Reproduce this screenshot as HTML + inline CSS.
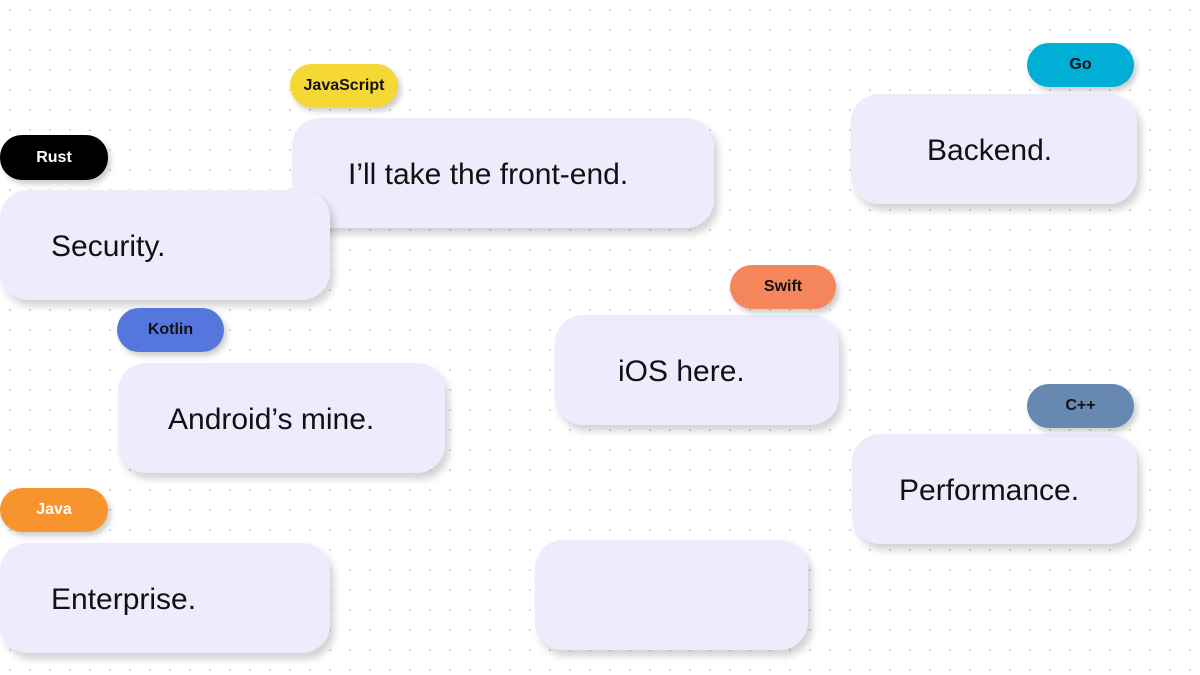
<!DOCTYPE html>
<html><head><meta charset="utf-8"><style>
html,body{margin:0;padding:0}
body{width:1200px;height:675px;overflow:hidden;position:relative;background-color:#fff;
background-image:radial-gradient(circle,#dcdce0 1px,transparent 1.4px);background-size:20px 20px;background-position:0 0;
font-family:"Liberation Sans",sans-serif}
.c{position:absolute;background:#eeebfc;border-radius:28px;box-shadow:4px 6px 8px rgba(0,0,0,0.18);font-size:30px;color:#111;display:flex;align-items:center;box-sizing:border-box;white-space:nowrap;padding-top:3px}
.p{position:absolute;border-radius:22px;box-shadow:3px 4px 6px rgba(0,0,0,0.2);font-size:16px;font-weight:bold;display:flex;align-items:center;justify-content:center;color:#111}
</style></head><body>
<div class="c" style="left:292px;top:118px;width:422px;height:110px;padding-left:56px">I’ll take the front-end.</div>
<div class="p" style="left:290px;top:64px;width:108px;height:43px;background:#f5d735">JavaScript</div>
<div class="c" style="left:0;top:190px;width:330px;height:110px;padding-left:51px">Security.</div>
<div class="p" style="left:0;top:135px;width:108px;height:45px;background:#000;color:#fff">Rust</div>
<div class="c" style="left:851px;top:94px;width:286px;height:110px;padding-left:76px">Backend.</div>
<div class="p" style="left:1027px;top:43px;width:107px;height:44px;background:#00aed6">Go</div>
<div class="c" style="left:555px;top:315px;width:284px;height:110px;padding-left:63px">iOS here.</div>
<div class="p" style="left:730px;top:265px;width:106px;height:44px;background:#f5855a">Swift</div>
<div class="c" style="left:118px;top:363px;width:327px;height:110px;padding-left:50px">Android’s mine.</div>
<div class="p" style="left:117px;top:308px;width:107px;height:44px;background:#5577dd">Kotlin</div>
<div class="c" style="left:852px;top:434px;width:285px;height:110px;padding-left:47px">Performance.</div>
<div class="p" style="left:1027px;top:384px;width:107px;height:44px;background:#6788b0">C++</div>
<div class="c" style="left:0;top:543px;width:330px;height:110px;padding-left:51px">Enterprise.</div>
<div class="p" style="left:0;top:488px;width:108px;height:44px;background:#f7942e;color:#fff">Java</div>
<div class="c" style="left:535px;top:540px;width:273px;height:110px"></div>
</body></html>
